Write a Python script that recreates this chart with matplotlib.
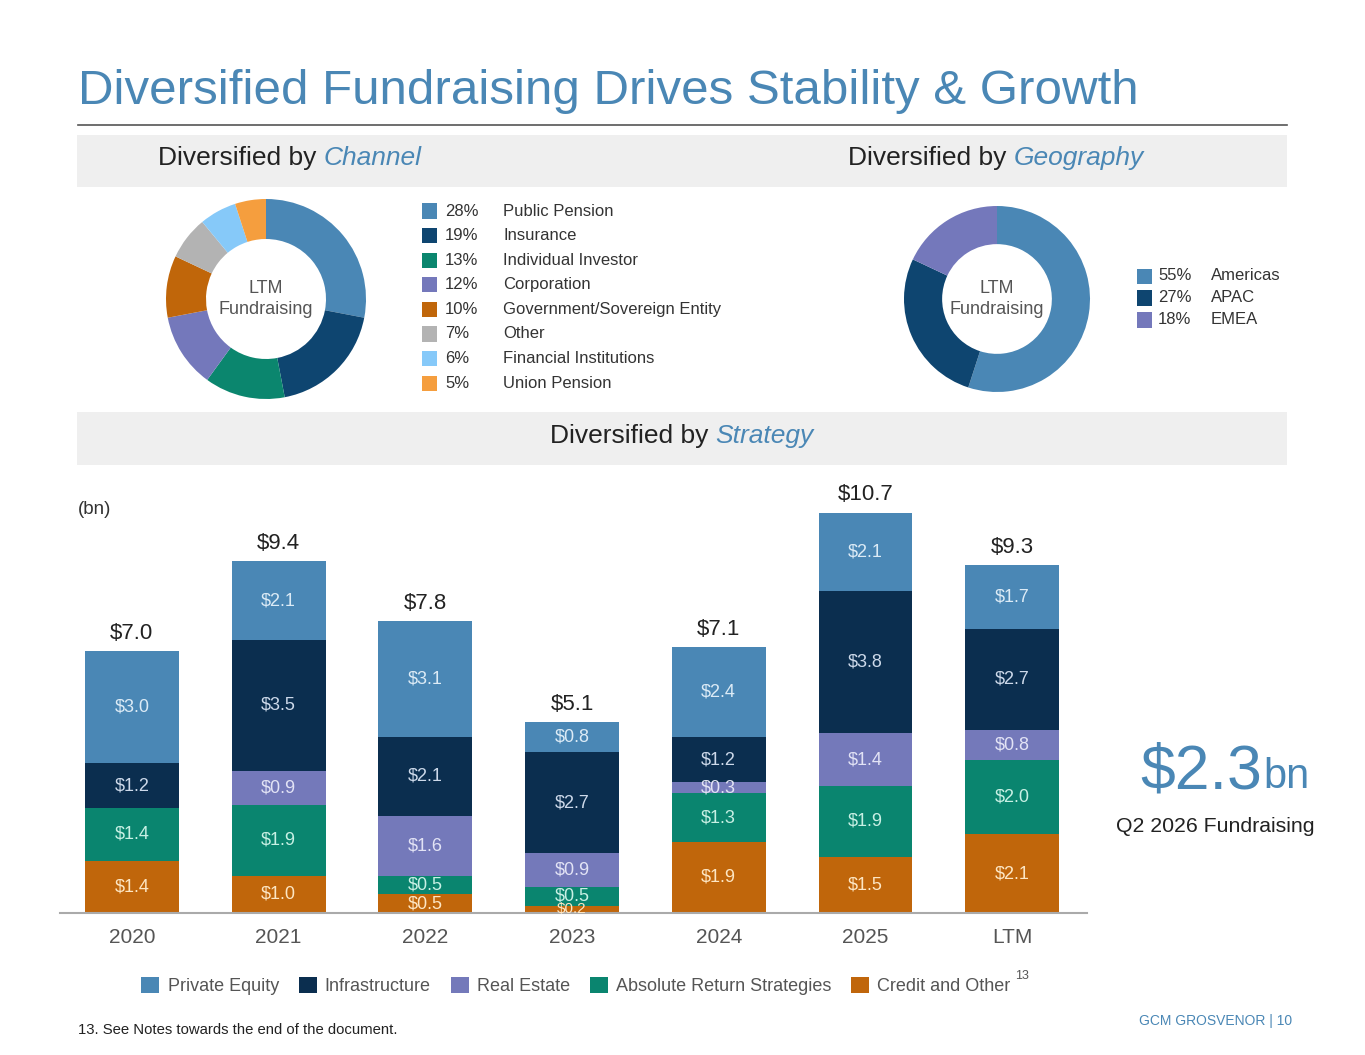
import matplotlib
matplotlib.use('Agg')
import matplotlib.pyplot as plt
from matplotlib.patches import Rectangle
from matplotlib.lines import Line2D

plt.rcParams['font.family'] = ['Liberation Sans', 'DejaVu Sans']

W, H = 1365, 1055
BLUE = '#4a87b5'
GREY_TXT = '#555555'

# --- data -------------------------------------------------------------
channel_labels = ['Public Pension', 'Insurance', 'Individual Investor', 'Corporation',
                  'Government/Sovereign Entity', 'Other', 'Financial Institutions',
                  'Union Pension']
channel_pct = [28, 19, 13, 12, 10, 7, 6, 5]
channel_colors = ['#4a87b5', '#0e4570', '#0b866e', '#7478bb',
                  '#c0660a', '#b3b3b3', '#86c9f9', '#f59e3e']

geo_labels = ['Americas', 'APAC', 'EMEA']
geo_pct = [55, 27, 18]
geo_colors = ['#4a87b5', '#0e4570', '#7478bb']

years = ['2020', '2021', '2022', '2023', '2024', '2025', 'LTM']
series_names = ['Credit and Other', 'Absolute Return Strategies', 'Real Estate',
                'Infrastructure', 'Private Equity']
credit = [1.4, 1.0, 0.5, 0.2, 1.9, 1.5, 2.1]
absolute_return = [1.4, 1.9, 0.5, 0.5, 1.3, 1.9, 2.0]
real_estate = [0.0, 0.9, 1.6, 0.9, 0.3, 1.4, 0.8]
infrastructure = [1.2, 3.5, 2.1, 2.7, 1.2, 3.8, 2.7]
private_equity = [3.0, 2.1, 3.1, 0.8, 2.4, 2.1, 1.7]
totals = [7.0, 9.4, 7.8, 5.1, 7.1, 10.7, 9.3]
series_colors = ['#c0660b', '#0a856f', '#7479ba', '#0b2e4f', '#4a87b5']
label_colors = ['#fde6c4', '#c8f0e4', '#e2e3f5', '#cdd9ea', '#dcebf6']


def fx(x):
    return x / W


def fy(y):
    return 1 - y / H


fig = plt.figure(figsize=(W / 100, H / 100), dpi=100)
fig.patch.set_facecolor('white')

# title + rule
fig.text(fx(78), fy(92), 'Diversified Fundraising Drives Stability & Growth',
         fontsize=35.5, color=BLUE, va='center', ha='left')
fig.add_artist(Line2D([fx(78), fx(1287)], [fy(125), fy(125)], color='#555555', lw=1.2))

# grey bands
for top, bot in [(135, 187), (412, 465)]:
    fig.add_artist(Rectangle((fx(77), fy(bot)), fx(1287) - fx(77), (bot - top) / H,
                             transform=fig.transFigure, facecolor='#efefef',
                             edgecolor='none', zorder=0))

renderer = fig.canvas.get_renderer()


def header(x, y, plain, accent, ha='left'):
    t1 = fig.text(fx(x), fy(y), plain, fontsize=19, color='#222222', va='center', ha='left')
    bb = t1.get_window_extent(renderer=renderer)
    t2 = fig.text(0, fy(y), accent, fontsize=19, color=BLUE, style='italic',
                  va='center', ha='left')
    bb2 = t2.get_window_extent(renderer=renderer)
    total_w = bb.width + bb2.width
    if ha == 'center':
        x0 = x - total_w / 2
        t1.set_x(fx(x0))
        t2.set_x(fx(x0 + bb.width))
    else:
        t2.set_x(fx(x + bb.width))


header(158, 158, 'Diversified by ', 'Channel')
header(848, 158, 'Diversified by ', 'Geography')
header(682, 436, 'Diversified by ', 'Strategy', ha='center')


def donut(cx, cy, r, vals, colors, ring):
    ax = fig.add_axes([fx(cx - r), fy(cy + r), 2 * r / W, 2 * r / H])
    ax.pie(vals, colors=colors, startangle=90, counterclock=False, radius=1,
           wedgeprops=dict(width=ring, edgecolor='none'))
    ax.set_xlim(-1, 1)
    ax.set_ylim(-1, 1)
    ax.set_aspect('equal')
    ax.axis('off')
    ax.text(0, 0, 'LTM\nFundraising', ha='center', va='center', fontsize=13,
            color=GREY_TXT, linespacing=1.3)


donut(266, 299, 100, channel_pct, channel_colors, 0.4)
donut(997, 299, 93, geo_pct, geo_colors, 0.41)


def legend_list(xsq, xpct, xlab, y0, dy, labels, pcts, colors):
    for i, (lab, p, c) in enumerate(zip(labels, pcts, colors)):
        y = y0 + i * dy
        fig.add_artist(Rectangle((fx(xsq), fy(y + 7.5)), 15 / W, 15 / H,
                                 transform=fig.transFigure, facecolor=c, edgecolor='none'))
        fig.text(fx(xpct), fy(y), f'{p}%', fontsize=12, color='#333333', va='center')
        fig.text(fx(xlab), fy(y), lab, fontsize=12, color='#333333', va='center')


legend_list(422, 445, 503, 211, 24.6, channel_labels, channel_pct, channel_colors)
legend_list(1137, 1158, 1211, 276, 22, geo_labels, geo_pct, geo_colors)

# --- stacked bars -----------------------------------------------------
base_y, top_y = 913, 480
px_per_unit = 37.4
ax = fig.add_axes([fx(60), fy(base_y), fx(1087) - fx(60), (base_y - top_y) / H])
x = list(range(len(years)))
bottoms = [0.0] * len(years)
stack = [credit, absolute_return, real_estate, infrastructure, private_equity]
handles = {}
for name, vals, col, lcol in zip(series_names, stack, series_colors, label_colors):
    bars = ax.bar(x, vals, bottom=bottoms, width=0.64, color=col, edgecolor='none')
    handles[name] = bars
    for xi, v, b in zip(x, vals, bottoms):
        if v > 0:
            fs = 13 if v >= 0.3 else 11
            ax.text(xi, b + v / 2, f'${v:.1f}', ha='center', va='center',
                    fontsize=fs, color=lcol)
    bottoms = [b + v for b, v in zip(bottoms, vals)]

for xi, t in zip(x, totals):
    ax.text(xi, t + 0.2, f'${t:.1f}', ha='center', va='bottom', fontsize=16, color='#222222')

ax.set_xlim(-0.49, 6.51)
ax.set_ylim(0, (base_y - top_y) / px_per_unit)
for s in ['top', 'right', 'left']:
    ax.spines[s].set_visible(False)
ax.spines['bottom'].set_color('#aaaaaa')
ax.spines['bottom'].set_linewidth(1.5)
ax.set_yticks([])
ax.set_xticks(x)
ax.set_xticklabels(years, fontsize=15, color=GREY_TXT)
ax.tick_params(axis='x', length=0, pad=11)

fig.text(fx(78), fy(510), '(bn)', fontsize=13.5, color='#333333', va='center')

# legend
order = ['Private Equity', 'Infrastructure', 'Real Estate',
         'Absolute Return Strategies', 'Credit and Other']
fig.legend([handles[n] for n in order], order, loc='center',
           bbox_to_anchor=(fx(576), fy(986)), ncol=5, frameon=False, fontsize=13,
           handlelength=1.0, handleheight=1.0, handletextpad=0.45, columnspacing=1.1,
           labelcolor=GREY_TXT)
fig.text(fx(1015), fy(976), '13', fontsize=9, color=GREY_TXT, va='center')

# callout
t = fig.text(fx(1140), fy(772), '$2.3', fontsize=45, color=BLUE, va='center', ha='left')
bb = t.get_window_extent(renderer=renderer)
fig.text(fx(1140 + bb.width + 1), fy(777), 'bn', fontsize=30, color=BLUE, va='center', ha='left')
fig.text(fx(1215), fy(827), 'Q2 2026 Fundraising', fontsize=15.3, color='#222222',
         va='center', ha='center')

# footer
fig.text(fx(78), fy(1030), '13. See Notes towards the end of the document.',
         fontsize=10.7, color='#222222', va='center')
fig.text(fx(1292), fy(1021), 'GCM GROSVENOR | 10', fontsize=10, color=BLUE,
         va='center', ha='right')

fig.savefig('out.png', dpi=100)
